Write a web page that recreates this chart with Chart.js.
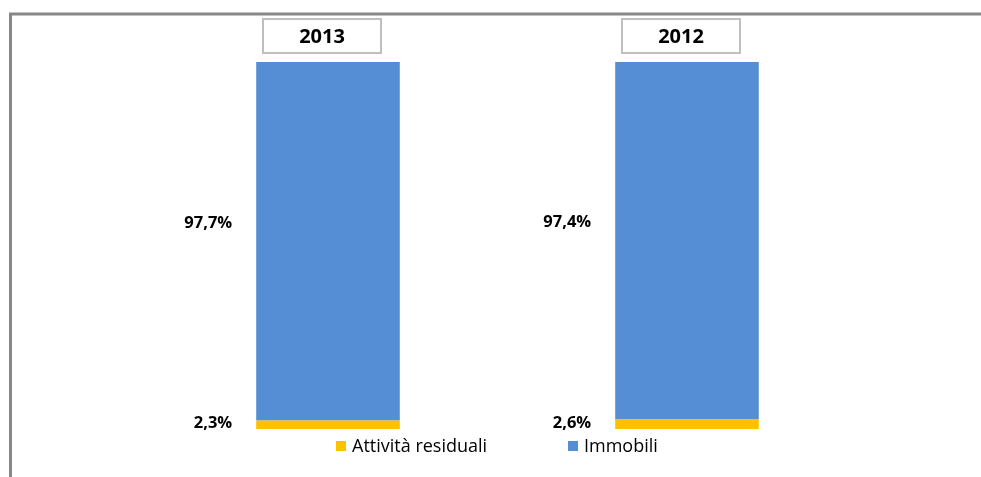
<!DOCTYPE html>
<html>
<head>
<meta charset="utf-8">
<script src="https://cdn.jsdelivr.net/npm/chart.js@4"></script>
<style>
  html, body { margin: 0; padding: 0; background: #fff; }
  #wrap { position: relative; width: 981px; height: 477px; }
</style>
</head>
<body>
<div id="wrap"><canvas id="chart"></canvas></div>
<script>
// data
const years = ["2013", "2012"];
const residuali = [2.3, 2.6];
const immobili = [97.7, 97.4];
const seriesNames = ["Attività residuali", "Immobili"];
const seriesColors = ["#ffc000", "#558ed5"];

const FONT = "'Open Sans', sans-serif";

// gray frame around the plot (top and left edges show)
const framePlugin = {
  id: "frame",
  beforeDraw(chart) {
    const ctx = chart.ctx;
    ctx.save();
    ctx.strokeStyle = "#888888";
    ctx.lineWidth = 3;
    ctx.beginPath();
    ctx.moveTo(10.5, chart.height);
    ctx.lineTo(10.5, 14);
    ctx.lineTo(chart.width, 14);
    ctx.stroke();
    ctx.restore();
  }
};

// percentage labels on the left of each segment + year boxes on top
const labelPlugin = {
  id: "labels",
  afterDatasetsDraw(chart) {
    const ctx = chart.ctx;
    ctx.save();
    ctx.fillStyle = "#000";
    ctx.font = "bold 16.5px " + FONT;
    ctx.textAlign = "right";
    ctx.textBaseline = "middle";
    chart.data.datasets.forEach((ds, di) => {
      chart.getDatasetMeta(di).data.forEach((bar, i) => {
        const left = bar.x - bar.width / 2;
        const midY = (bar.y + bar.base) / 2;
        const y = di === 1 ? midY - 18 : midY - 1;
        ctx.fillText(ds.data[i].toFixed(1).replace(".", ",") + "%", left - 24, y);
      });
    });

    // year boxes
    const meta = chart.getDatasetMeta(1);
    meta.data.forEach((bar, i) => {
      const cx = bar.x - 6;
      ctx.fillStyle = "#fff";
      ctx.fillRect(cx - 59, 19, 118, 34);
      ctx.strokeStyle = "#bfbfbf";
      ctx.lineWidth = 2;
      ctx.strokeRect(cx - 59, 19, 118, 34);
      ctx.fillStyle = "#000";
      ctx.font = "bold 20px " + FONT;
      ctx.textAlign = "center";
      ctx.fillText(years[i], cx, 37);
    });

    // legend
    const legendX = [336, 568];
    ctx.font = "18px " + FONT;
    ctx.textAlign = "left";
    chart.data.datasets.forEach((ds, di) => {
      ctx.fillStyle = ds.backgroundColor;
      ctx.fillRect(legendX[di], 441, 10, 10);
      ctx.fillStyle = "#000";
      ctx.fillText(ds.label, legendX[di] + 16, 447);
    });
    ctx.restore();
  }
};

new Chart(document.getElementById("chart"), {
  type: "bar",
  data: {
    labels: years,
    datasets: [
      { label: seriesNames[0], data: residuali, backgroundColor: seriesColors[0] },
      { label: seriesNames[1], data: immobili, backgroundColor: seriesColors[1] }
    ]
  },
  options: {
    responsive: true,
    maintainAspectRatio: false,
    animation: false,
    layout: { padding: { left: 148.5, right: 114.5, top: 62, bottom: 48 } },
    categoryPercentage: 0.8,
    barPercentage: 0.5,
    scales: {
      x: { stacked: true, display: false },
      y: { stacked: true, display: false, min: 0, max: 100 }
    },
    plugins: {
      legend: { display: false },
      tooltip: { enabled: false }
    }
  },
  plugins: [framePlugin, labelPlugin]
});
</script>
</body>
</html>
